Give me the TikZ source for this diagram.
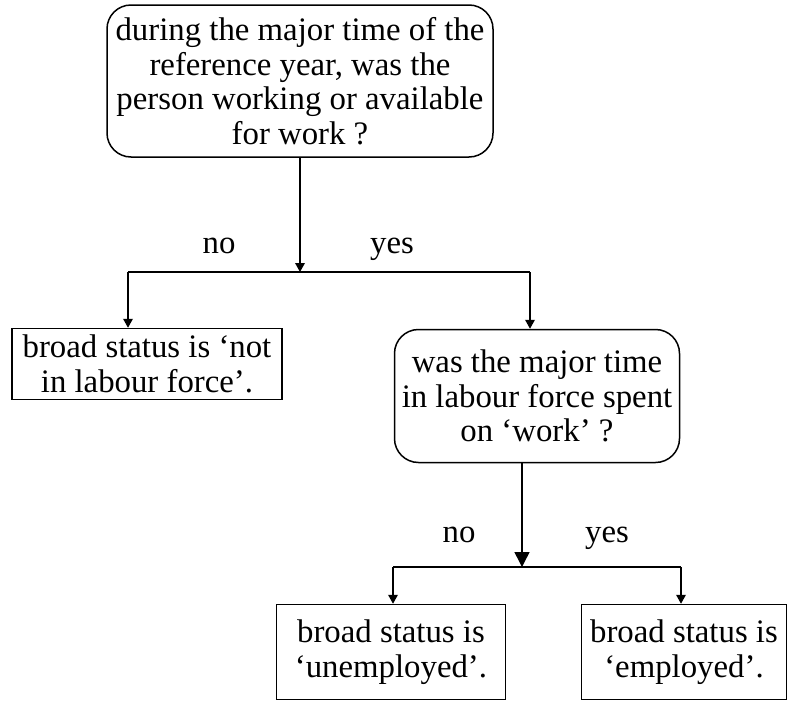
\documentclass[tikz,border=0pt]{standalone}
\usepackage{fontspec}
\setmainfont{Liberation Serif}
\usetikzlibrary{arrows.meta,positioning}
\tikzset{
  question/.style={draw, rounded corners=12pt, align=center, inner sep=0pt},
  status/.style={draw, align=center, inner sep=0pt},
  answer/.style={anchor=base},
  bigtip/.style={>={Triangle[width=7.5pt,length=7.5pt]}},
}

\begin{document}
\begin{tikzpicture}[x=0.5pt,y=-0.5pt,>={Triangle[width=4.8pt,length=4.5pt]},line width=0.75pt,
  font=\fontsize{16.4}{17.3}\selectfont]
\useasboundingbox (0,0) rectangle (788,702);

% questions
\node[question, minimum width=193pt, minimum height=76pt] (q1) at (300,81)
  {during the major time of the\\reference year, was the\\person working or available\\for work ?};
\node[question, minimum width=142.5pt, minimum height=66.5pt] (q2) at (537,396)
  {was the major time\\in labour force spent\\on ‘work’ ?};

% outcomes
\node[status, minimum width=135pt, minimum height=35.5pt] (nlf) at (147,364)
  {broad status is ‘not\\in labour force’.};
\node[status, minimum width=114.5pt, minimum height=47.5pt] (unemp) at (391,652)
  {broad status is\\‘unemployed’.};
\node[status, minimum width=102.5pt, minimum height=47.5pt] (emp) at (684,652)
  {broad status is\\‘employed’.};

% junctions
\coordinate (j1)  at (300,272);
\coordinate (j1l) at (128,272);
\coordinate (j1r) at (530,272);
\coordinate (j2)  at (522,567);
\coordinate (j2l) at (393,567);
\coordinate (j2r) at (681,567);

\node[answer] (no1)  at (219,253) {no};
\node[answer] (yes1) at (392,253) {yes};
\node[answer] (no2)  at (459,542) {no};
\node[answer] (yes2) at (607,542) {yes};

\draw[->] (q1) -- (j1);
\draw (j1l) -- (j1r);
\draw[->] (j1l) -- (j1l |- nlf.north);
\draw[->] (j1r) -- (j1r |- q2.north);

\draw[->,bigtip] (j2 |- q2.south) -- (j2);
\draw (j2l) -- (j2r);
\draw[->] (j2l) -- (j2l |- unemp.north);
\draw[->] (j2r) -- (j2r |- emp.north);
\end{tikzpicture}
\end{document}
